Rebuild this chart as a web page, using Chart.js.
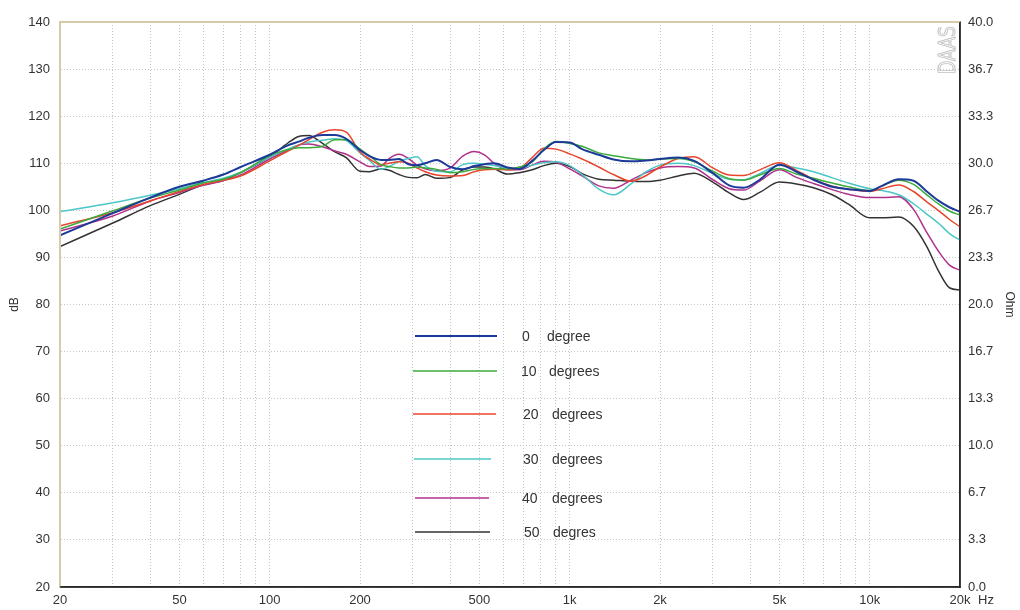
<!DOCTYPE html>
<html>
<head>
<meta charset="utf-8">
<script src="https://cdn.jsdelivr.net/npm/chart.js@4.4.1/dist/chart.umd.min.js"></script>
<style>
  body { margin: 0; background: #fff; }
  #wrap { width: 1020px; height: 610px; }
</style>
</head>
<body>
<div id="wrap"><canvas id="fr" width="1020" height="610"></canvas></div>
<script>
// frequency points (Hz) shared by all curves
const freqs = [20, 30, 40, 50, 60, 70, 80,
  100, 115, 125, 135, 150, 165, 180,
  200, 215, 235, 250, 270, 290, 310, 330, 360,
  400, 440, 480, 520, 560, 620, 680, 750, 820, 900,
  1000, 1100, 1250, 1400, 1600, 1800,
  2000, 2300, 2600, 3000, 3400, 3800, 4300,
  5000, 5700, 6500, 7500, 8500,
  10000, 11000, 12500, 14000, 15500, 17000, 18500, 20000];

// SPL in dB
const deg0 = [94.7, 99.4, 102.7, 105.0, 106.3, 107.6, 109.2,
  111.8, 113.8, 114.6, 115.4, 116.0, 116.0, 115.2,
  112.8, 111.5, 110.7, 110.7, 110.9, 109.8, 109.6, 110.0, 110.7,
  109.2, 108.7, 109.4, 109.8, 110.0, 109.1, 108.8, 110.5, 112.8, 114.5,
  114.4, 113.0, 111.8, 110.8, 110.4, 110.6,
  110.9, 111.2, 110.5, 107.9, 105.3, 104.8, 106.5,
  109.7, 108.2, 106.5, 105.0, 104.5,
  104.1, 105.2, 106.6, 106.3, 104.0, 102.0, 100.6, 99.7];

const deg10 = [96.0, 99.9, 102.6, 104.3, 105.8, 106.6, 108.0,
  111.6, 112.9, 113.3, 113.3, 113.6, 115.0, 115.0,
  113.0, 111.6, 109.7, 109.3, 109.0, 109.0, 109.2, 109.0, 108.7,
  108.0, 108.2, 108.7, 108.9, 108.9, 108.8, 109.2, 110.3, 113.0, 114.6,
  114.2, 113.6, 112.2, 111.6, 111.0, 110.7,
  110.9, 111.0, 110.3, 108.3, 106.7, 106.4, 107.5,
  108.9, 107.7, 106.8, 105.8, 105.0,
  104.2, 105.2, 106.4, 105.5, 103.3, 101.3, 99.8, 99.0];

const deg20 = [96.7, 99.5, 102.0, 104.0, 105.5, 106.4, 107.3,
  110.5, 112.6, 113.8, 115.0, 116.6, 117.1, 116.6,
  112.4, 110.9, 109.7, 110.0, 110.3, 110.0, 109.0, 108.2, 107.5,
  107.3, 107.4, 108.2, 108.6, 108.7, 108.6, 108.9, 111.2, 113.2, 113.0,
  112.0, 110.9, 109.2, 107.6, 106.2, 107.4,
  109.2, 111.0, 111.4, 109.0, 107.5, 107.4, 108.6,
  110.1, 108.5, 106.6, 105.1, 104.5,
  104.0, 104.6, 105.4, 104.0, 101.8, 99.9, 98.0, 96.5];

const deg30 = [99.7, 101.6, 103.2, 104.6, 105.9, 106.8, 108.1,
  111.3, 113.0, 113.9, 114.5, 114.9, 115.2, 114.8,
  112.2, 110.6, 108.7, 109.3, 110.4, 111.0, 111.4, 109.5, 108.3,
  108.2, 109.7, 110.0, 109.8, 109.5, 109.0, 108.9, 109.6, 110.1, 110.3,
  109.5, 107.6, 104.5, 103.3, 105.6, 108.2,
  109.6, 110.0, 109.5, 107.8, 106.6, 106.5, 107.8,
  109.6, 109.0, 108.2, 106.9, 105.8,
  104.6, 104.2, 103.3, 101.4, 99.2, 97.2, 95.0, 93.7];

const deg40 = [95.6, 98.8, 102.0, 103.8, 105.3, 106.3, 107.5,
  110.9, 112.8, 113.9, 114.1, 113.5, 112.6, 111.9,
  110.3, 109.3, 109.4, 111.0, 111.9, 111.0, 109.6, 108.8, 108.4,
  109.0, 111.5, 112.5, 111.8, 110.0, 108.6, 108.6, 109.6, 110.4, 110.2,
  108.8, 107.3, 105.2, 104.7, 106.4, 108.0,
  109.0, 109.3, 109.0, 106.5, 104.6, 104.3, 106.2,
  108.6, 107.0, 105.7, 104.4, 103.4,
  102.7, 102.7, 102.9, 100.2, 95.3, 91.2, 88.3, 87.3];

const deg50 = [92.3, 97.3, 101.0, 103.4, 105.4, 106.4, 108.0,
  111.4, 114.3, 115.7, 115.9, 114.2, 112.4, 111.2,
  108.3, 108.2, 108.8, 108.5, 107.6, 107.0, 106.9, 107.6, 106.8,
  107.0, 108.6, 109.2, 109.2, 108.8, 107.7, 108.0, 108.6, 109.5, 110.0,
  109.3, 107.8, 106.6, 106.4, 106.2, 106.1,
  106.4, 107.3, 107.9, 106.0, 103.7, 102.3, 103.8,
  106.0, 105.6, 104.8, 103.3, 101.3,
  98.4, 98.4, 98.6, 96.6, 92.3, 87.0, 83.5, 83.1];

const seriesNames = ['0 degree', '10 degrees', '20 degrees', '30 degrees', '40 degrees', '50 degres'];
const seriesColors = ['#1c3a98', '#3caa3c', '#e8452c', '#4cc6c6', '#b0308c', '#333333'];

// axis labels
const xLabels = { 20: '20', 50: '50', 100: '100', 200: '200', 500: '500',
  1000: '1k', 2000: '2k', 5000: '5k', 10000: '10k', 20000: '20k' };
const ohmLabels = ['0.0', '3.3', '6.7', '10.0', '13.3', '16.7', '20.0',
  '23.3', '26.7', '30.0', '33.3', '36.7', '40.0'];

// grid lines at every 1..9 multiple between 20 Hz and 20 kHz
const gridFreqs = [];
[10, 100, 1000, 10000].forEach(dec => {
  for (let m = 1; m <= 9; m++) {
    const f = m * dec;
    if (f >= 20 && f <= 20000) gridFreqs.push(f);
  }
});

const allSeries = [deg0, deg10, deg20, deg30, deg40, deg50];
const textFont = { family: "'Liberation Sans', Arial, sans-serif", size: 13 };

// legend placed inside plot, like the original
const legendSpots = [
  { y: 336, x1: 415, x2: 497, nx: 522, wx: 547 },
  { y: 371, x1: 413, x2: 497, nx: 521, wx: 549 },
  { y: 414, x1: 413, x2: 496, nx: 523, wx: 552 },
  { y: 459, x1: 414, x2: 491, nx: 523, wx: 552 },
  { y: 498, x1: 415, x2: 489, nx: 522, wx: 552 },
  { y: 532, x1: 415, x2: 490, nx: 524, wx: 553 }
];

const extras = {
  id: 'extras',
  beforeDatasetsDraw(chart) {
    const ctx = chart.ctx;
    const a = chart.chartArea;
    // DAAS watermark
    ctx.save();
    ctx.translate(a.right - 11, a.top + 4);
    ctx.rotate(-Math.PI / 2);
    ctx.scale(0.75, 1);
    ctx.font = "23px 'DejaVu Sans', sans-serif";
    ctx.textAlign = 'right';
    ctx.textBaseline = 'middle';
    ctx.strokeStyle = '#c0c0c0';
    ctx.lineWidth = 1;
    ctx.strokeText('DAAS', 0, 0);
    ctx.restore();
  },
  afterDatasetsDraw(chart) {
    const ctx = chart.ctx;
    const a = chart.chartArea;
    ctx.save();
    chart.data.datasets.forEach((ds, i) => {
      const s = legendSpots[i];
      ctx.strokeStyle = ds.borderColor;
      ctx.lineWidth = ds.borderWidth;
      ctx.beginPath();
      ctx.moveTo(s.x1, s.y);
      ctx.lineTo(s.x2, s.y);
      ctx.stroke();
      const parts = ds.label.split(' ');
      ctx.fillStyle = '#333';
      ctx.font = "14px 'Liberation Sans', Arial, sans-serif";
      ctx.textBaseline = 'middle';
      ctx.textAlign = 'left';
      ctx.fillText(parts[0], s.nx, s.y + 1);
      ctx.fillText(parts[1], s.wx, s.y + 1);
    });
    // frame: tan top/left, dark right/bottom
    ctx.lineWidth = 2;
    ctx.strokeStyle = '#d6cba8';
    ctx.beginPath();
    ctx.moveTo(a.left, a.bottom);
    ctx.lineTo(a.left, a.top);
    ctx.lineTo(a.right, a.top);
    ctx.stroke();
    ctx.strokeStyle = '#2a2a2a';
    ctx.lineWidth = 1.5;
    ctx.beginPath();
    ctx.moveTo(a.right, a.top);
    ctx.lineTo(a.right, a.bottom);
    ctx.lineTo(a.left, a.bottom);
    ctx.stroke();
    // unit after the last frequency label
    ctx.fillStyle = '#333';
    ctx.font = "13px 'Liberation Sans', Arial, sans-serif";
    ctx.textAlign = 'left';
    ctx.textBaseline = 'middle';
    ctx.fillText('Hz', a.right + 18, a.bottom + 13);
    ctx.restore();
  }
};

new Chart(document.getElementById('fr').getContext('2d'), {
  type: 'line',
  data: {
    datasets: allSeries.map((vals, i) => ({
      label: seriesNames[i],
      data: freqs.map((f, j) => ({ x: f, y: vals[j] })),
      borderColor: seriesColors[i],
      borderWidth: i === 0 ? 2 : 1.5,
      pointRadius: 0,
      fill: false,
      cubicInterpolationMode: 'monotone'
    }))
  },
  options: {
    responsive: false,
    animation: false,
    layout: { padding: { top: 22, left: 0, right: 0, bottom: 0 } },
    plugins: {
      legend: { display: false },
      tooltip: { enabled: false }
    },
    scales: {
      x: {
        type: 'logarithmic',
        min: 20,
        max: 20000,
        afterBuildTicks: s => { s.ticks = gridFreqs.map(v => ({ value: v })); },
        afterFit: s => { s.height = 23; },
        grid: { color: '#c6c6c6', lineWidth: 1, drawTicks: false },
        border: { display: true, color: '#2a2a2a', width: 1.5, dash: [1, 2] },
        ticks: {
          autoSkip: false, maxRotation: 0, minRotation: 0, padding: 6,
          color: '#333', font: textFont,
          callback: v => xLabels[v] || ''
        }
      },
      y: {
        position: 'left',
        min: 20,
        max: 140,
        afterFit: s => { s.width = 60; },
        grid: { color: '#c6c6c6', lineWidth: 1, drawTicks: false },
        border: { display: true, color: '#d6cba8', width: 2, dash: [1, 2] },
        ticks: { stepSize: 10, padding: 10, color: '#333', font: textFont },
        title: { display: true, text: 'dB', color: '#333', font: { family: textFont.family, size: 12 }, padding: { top: 7, bottom: 0 } }
      },
      y2: {
        position: 'right',
        min: 0,
        max: 40,
        afterBuildTicks: s => { s.ticks = ohmLabels.map((t, i) => ({ value: i * 40 / 12 })); },
        afterFit: s => { s.width = 60; },
        grid: { display: false, drawTicks: false },
        border: { display: true, color: '#2a2a2a', width: 1.5 },
        ticks: { padding: 8, color: '#333', font: textFont, callback: (v, i) => ohmLabels[i] },
        title: { display: true, text: 'Ohm', color: '#333', font: { family: textFont.family, size: 12 }, padding: { top: 3, bottom: 0 } }
      }
    }
  },
  plugins: [extras]
});
</script>
</body>
</html>
